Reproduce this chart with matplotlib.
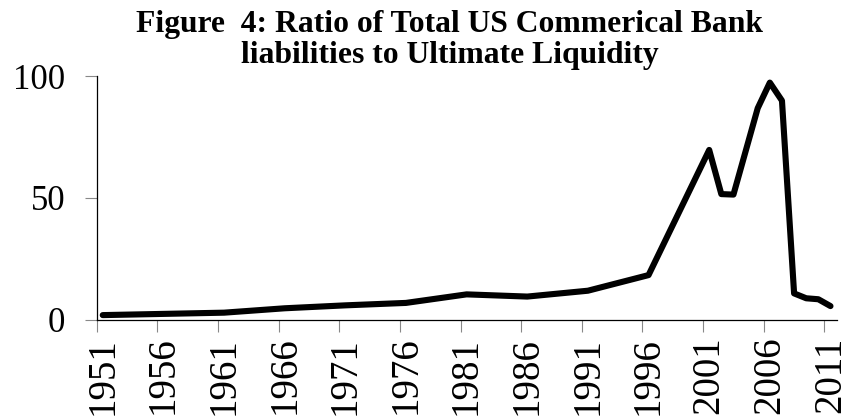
import matplotlib
matplotlib.use('Agg')
from matplotlib import pyplot as plt

# ratio values (annual categories, knots only)
years = [1951, 1956, 1961, 1966, 1971, 1976, 1981, 1986, 1991, 1996,
         2001, 2002, 2003, 2005, 2006, 2007, 2008, 2009, 2010, 2011]
ratio = [2.0, 2.5, 3.0, 4.8, 6.0, 7.0, 10.5, 9.6, 12.0, 18.4,
         69.7, 51.6, 51.4, 86.8, 97.3, 89.9, 10.9, 8.9, 8.5, 5.7]
tick_years = list(range(1951, 2012, 5))
y_ticks = [0, 50, 100]
title_lines = ['Figure  4: Ratio of Total US Commerical Bank',
               'liabilities to Ultimate Liquidity']


def main():
    plt.rcParams['font.family'] = ['Liberation Serif', 'DejaVu Serif']
    fig = plt.figure(figsize=(8.45, 4.19), dpi=100)
    ax = fig.add_axes([0.1144, 0.2363, 0.8756, 0.5823])

    ax.plot(years, ratio, color='black', lw=4.4,
            solid_capstyle='round', solid_joinstyle='round')

    ax.set_xlim(1950.5, 2011.5)
    ax.set_ylim(0, 100)

    # ticks sit between categories, labels centred on them
    ax.set_xticks([y - 0.5 for y in tick_years])
    ax.set_xticklabels([])
    ax.set_xticks(tick_years, minor=True)
    ax.set_xticklabels([str(y) for y in tick_years], minor=True,
                       rotation=90, fontsize=28)
    ax.tick_params(axis='x', which='major', direction='out', length=8.5,
                   width=0.8, color='#888888')
    ax.tick_params(axis='x', which='minor', length=0, pad=12)

    ax.set_yticks(y_ticks)
    ax.set_yticklabels([str(v) for v in y_ticks], fontsize=25)
    ax.tick_params(axis='y', direction='out', length=8.5, width=0.8,
                   color='#888888', pad=14)

    for s in ['top', 'right']:
        ax.spines[s].set_visible(False)
    for s in ['left', 'bottom']:
        ax.spines[s].set_linewidth(0.9)

    # two-line title, placed line by line
    for line, base in zip(title_lines, [32, 63]):
        fig.text(450 / 845, 1 - base / 419, line, ha='center', va='baseline',
                 fontsize=22.8, fontweight='bold')

    fig.savefig('out.png', dpi=100)


if __name__ == '__main__':
    main()
